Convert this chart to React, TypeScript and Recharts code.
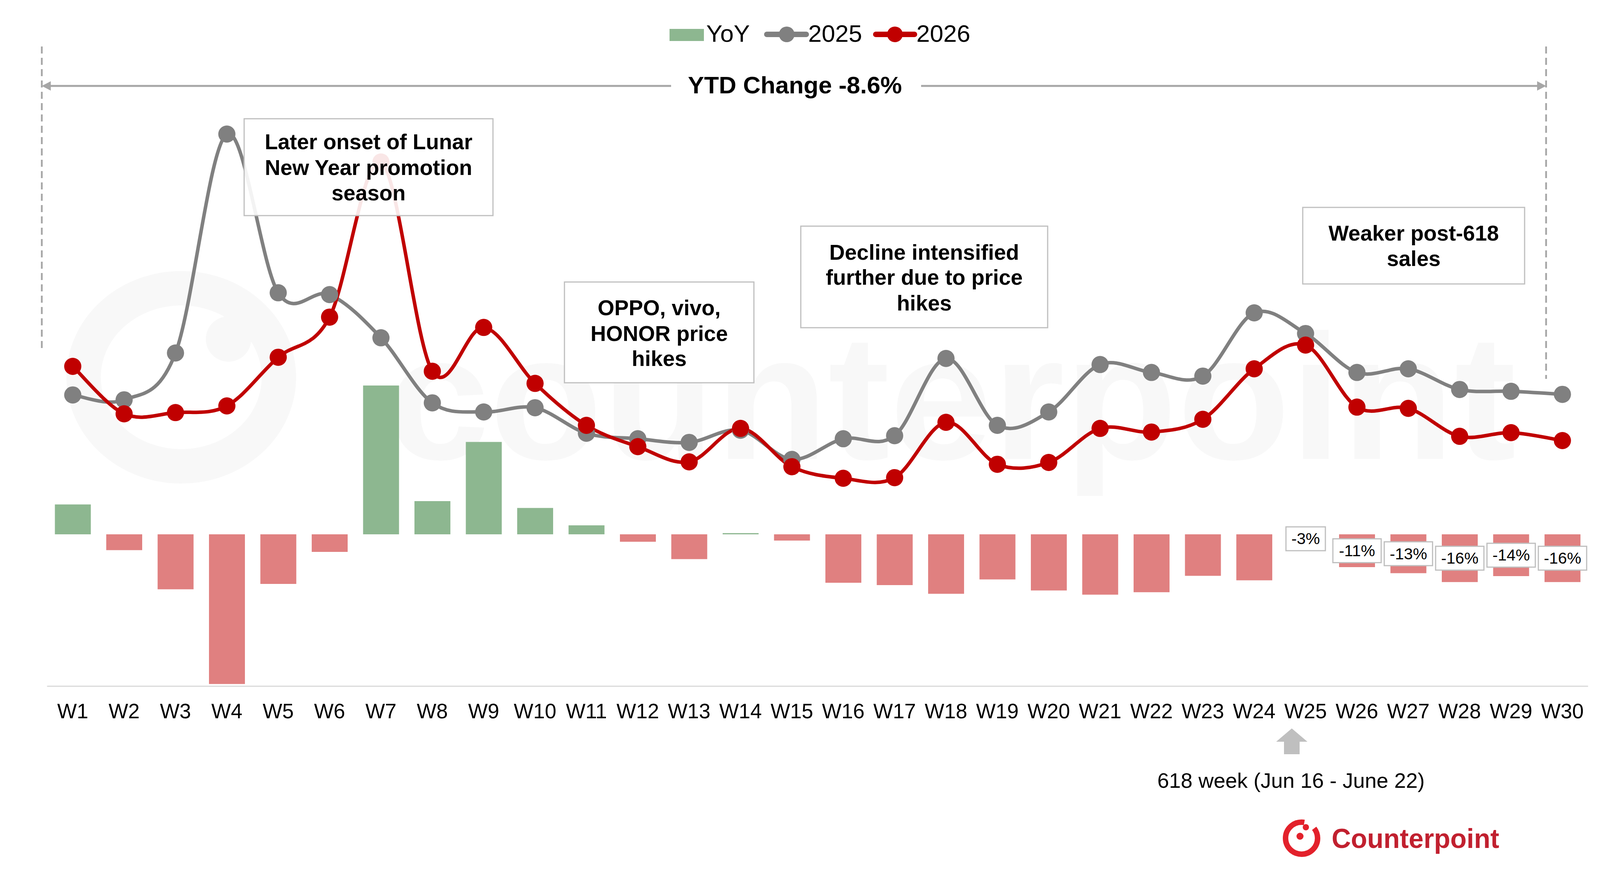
import React from 'react';
import { ComposedChart, Bar, Line, XAxis, YAxis, Cell } from 'recharts';

const W = 4136;
const H = 2230;
const FONT = '"Liberation Sans", Arial, Helvetica, sans-serif';

const GREEN = '#8db790';
const PINK = '#e08080';
const GREY = '#808080';
const RED = '#c00000';
const BORDER = '#bfbfbf';

const weeks = [
  'W1', 'W2', 'W3', 'W4', 'W5', 'W6', 'W7', 'W8', 'W9', 'W10',
  'W11', 'W12', 'W13', 'W14', 'W15', 'W16', 'W17', 'W18', 'W19', 'W20',
  'W21', 'W22', 'W23', 'W24', 'W25', 'W26', 'W27', 'W28', 'W29', 'W30',
];

// YoY change, %
const yoy = [
  10.0, -5.3, -18.4, -50.1, -16.6, -5.9, 49.8, 11.1, 30.9, 8.8,
  3.0, -2.5, -8.3, 0.4, -2.1, -16.2, -17.0, -19.9, -15.1, -18.8,
  -20.2, -19.4, -13.9, -15.4, -3.0, -11.0, -13.0, -16.0, -14.0, -16.0,
];

// weekly sell-through (arbitrary units)
const sales2025 = [
  4.79, 4.71, 5.48, 9.08, 6.47, 6.44, 5.73, 4.66, 4.51, 4.58,
  4.16, 4.07, 4.01, 4.21, 3.73, 4.07, 4.12, 5.39, 4.29, 4.51,
  5.29, 5.16, 5.10, 6.14, 5.80, 5.16, 5.22, 4.88, 4.85, 4.80,
];

const sales2026 = [
  5.26, 4.48, 4.50, 4.61, 5.41, 6.07, 8.62, 5.18, 5.90, 4.98,
  4.29, 3.94, 3.69, 4.24, 3.61, 3.42, 3.43, 4.34, 3.65, 3.68,
  4.24, 4.18, 4.39, 5.22, 5.61, 4.59, 4.57, 4.11, 4.17, 4.04,
];

const LABELLED_FROM = 24; // W25 onwards carry data labels

const data = weeks.map((week, i) => ({
  week,
  yoy: yoy[i],
  y2025: sales2025[i],
  y2026: sales2026[i],
}));

// Excel-like smoothed line (Catmull-Rom through every point)
const smoothCurve = (context: any) => {
  let pts: number[][] = [];
  return {
    areaStart() {},
    areaEnd() {},
    lineStart() {
      pts = [];
    },
    point(x: number, y: number) {
      pts.push([+x, +y]);
    },
    lineEnd() {
      const n = pts.length;
      if (!n) return;
      context.moveTo(pts[0][0], pts[0][1]);
      for (let i = 0; i < n - 1; i++) {
        const p0 = pts[Math.max(i - 1, 0)];
        const p1 = pts[i];
        const p2 = pts[i + 1];
        const p3 = pts[Math.min(i + 2, n - 1)];
        context.bezierCurveTo(
          p1[0] + (p2[0] - p0[0]) / 6,
          p1[1] + (p2[1] - p0[1]) / 6,
          p2[0] - (p3[0] - p1[0]) / 6,
          p2[1] - (p3[1] - p1[1]) / 6,
          p2[0],
          p2[1],
        );
      }
    },
  };
};

const textWidth = (s: string) =>
  [...s].reduce((sum, c) => sum + (c === '-' ? 0.333 : c === '%' ? 0.889 : 0.556), 0);

const YoyLabel = (props: any) => {
  const { x, y, width, height, value, index } = props;
  if (index < LABELLED_FROM) return null;
  const text = `${Math.round(value)}%`;
  const w = textWidth(text) * 41 + 28;
  const h = 61;
  const cx = Number(x) + Number(width) / 2;
  const cy = Number(y) + Number(height) / 2;
  return (
    <g>
      <rect x={cx - w / 2} y={cy - h / 2} width={w} height={h} fill="#fff" stroke={BORDER} strokeWidth={3} />
      <text x={cx} y={cy} textAnchor="middle" dominantBaseline="central" fontSize={41} fill="#000" fontFamily={FONT}>
        {text}
      </text>
    </g>
  );
};

interface NoteProps {
  x: number;
  y: number;
  w: number;
  h: number;
  lines: string[];
  baselines: number[];
}

const Note: React.FC<NoteProps> = ({ x, y, w, h, lines, baselines }) => (
  <g>
    <rect x={x} y={y} width={w} height={h} fill="#fff" fillOpacity={0.9} stroke={BORDER} strokeWidth={3} />
    {lines.map((line, i) => (
      <text key={line} x={x + w / 2} y={baselines[i]} textAnchor="middle" fontSize={55} fontWeight="bold" fill="#000">
        {line}
      </text>
    ))}
  </g>
);

const Watermark = () => (
  <svg width={W} height={H} style={{ position: 'absolute', left: 0, top: 0 }}>
    <ellipse cx={464} cy={966} rx={250} ry={228} fill="none" stroke="#f8f8f8" strokeWidth={88} />
    <circle cx={585} cy={868} r={58} fill="#f8f8f8" />
    <text
      x={990}
      y={1175}
      fontSize={456}
      fontWeight="bold"
      fill="#f8f8f8"
      fontFamily={FONT}
      textLength={2891}
      lengthAdjust="spacingAndGlyphs"
    >
      counterpoint
    </text>
  </svg>
);

const Overlay = () => (
  <svg
    width={W}
    height={H}
    style={{ position: 'absolute', left: 0, top: 0, pointerEvents: 'none' }}
    fontFamily={FONT}
  >
    {/* legend */}
    <rect x={1714} y={74} width={88} height={31} fill={GREEN} />
    <text x={1808} y={107} fontSize={62} fill="#000">YoY</text>
    <line x1={1963} x2={2064} y1={88} y2={88} stroke={GREY} strokeWidth={14} strokeLinecap="round" />
    <circle cx={2014} cy={88} r={20} fill={GREY} />
    <text x={2069} y={107} fontSize={62} fill="#000">2025</text>
    <line x1={2242} x2={2341} y1={88} y2={88} stroke={RED} strokeWidth={14} strokeLinecap="round" />
    <circle cx={2291} cy={88} r={20} fill={RED} />
    <text x={2346} y={107} fontSize={62} fill="#000">2026</text>

    {/* YTD span */}
    <line x1={107} x2={107} y1={119} y2={893} stroke="#a6a6a6" strokeWidth={4.5} strokeDasharray="18 11" />
    <line x1={3958} x2={3958} y1={119} y2={970} stroke="#a6a6a6" strokeWidth={4.5} strokeDasharray="18 11" />
    <line x1={125} x2={1718} y1={220} y2={220} stroke="#a6a6a6" strokeWidth={5} />
    <polygon points="107,220 130,208 130,232" fill="#a6a6a6" />
    <line x1={2358} x2={3940} y1={220} y2={220} stroke="#a6a6a6" strokeWidth={5} />
    <polygon points="3958,220 3935,208 3935,232" fill="#a6a6a6" />
    <text x={2035} y={239} textAnchor="middle" fontSize={62} fontWeight="bold" fill="#000">
      YTD Change -8.6%
    </text>

    {/* annotations */}
    <Note x={625} y={304} w={637} h={248} lines={['Later onset of Lunar', 'New Year promotion', 'season']} baselines={[382, 448, 513]} />
    <Note x={1445} y={722} w={485} h={258} lines={['OPPO, vivo,', 'HONOR price', 'hikes']} baselines={[807, 873, 937]} />
    <Note x={2050} y={579} w={632} h={260} lines={['Decline intensified', 'further due to price', 'hikes']} baselines={[665, 729, 795]} />
    <Note x={3335} y={531} w={568} h={196} lines={['Weaker post-618', 'sales']} baselines={[616, 681]} />

    {/* 618 week marker */}
    <polygon points="3307,1865 3347,1899 3327,1899 3327,1931 3287,1931 3287,1899 3267,1899" fill={BORDER} />
    <text x={3305} y={2017} textAnchor="middle" fontSize={54} fill="#000">
      618 week (Jun 16 - June 22)
    </text>

    {/* brand */}
    <circle
      cx={3332}
      cy={2146}
      r={41}
      fill="none"
      stroke="#e3212b"
      strokeWidth={14}
      strokeDasharray="200 30 28 0"
    />
    <circle cx={3343} cy={2118} r={8} fill="#e3212b" />
    <circle cx={3328} cy={2141} r={9} fill="#e3212b" />
    <text
      x={3409}
      y={2171}
      fontSize={70}
      fontWeight="bold"
      fill="#c1202f"
      textLength={429}
      lengthAdjust="spacingAndGlyphs"
    >
      Counterpoint
    </text>
  </svg>
);

const App: React.FC = () => (
  <div
    style={{
      position: 'absolute',
      left: 0,
      top: 0,
      width: W,
      height: H,
      background: '#fff',
      fontFamily: FONT,
      overflow: 'hidden',
    }}
  >
    <Watermark />
    <div style={{ position: 'absolute', left: 0, top: 0 }}>
      <ComposedChart
        width={W}
        height={H}
        data={data}
        margin={{ top: 200, right: 70.5, bottom: 413, left: 120.5 }}
      >
        <XAxis
          dataKey="week"
          height={60}
          interval={0}
          tickLine={false}
          tickSize={0}
          tickMargin={44}
          axisLine={{ stroke: '#d9d9d9', strokeWidth: 3 }}
          tick={{ fontSize: 53, fill: '#000', fontFamily: FONT }}
        />
        <YAxis yAxisId="bar" hide domain={[-50.85, 152.65]} allowDataOverflow />
        <YAxis yAxisId="line" orientation="right" hide domain={[0, 10]} allowDataOverflow />
        <Bar yAxisId="bar" dataKey="yoy" barSize={92} isAnimationActive={false} label={YoyLabel}>
          {data.map((d) => (
            <Cell key={d.week} fill={d.yoy >= 0 ? GREEN : PINK} />
          ))}
        </Bar>
        <Line
          yAxisId="line"
          dataKey="y2025"
          type={smoothCurve as any}
          stroke={GREY}
          strokeWidth={9}
          dot={{ r: 22, fill: GREY, stroke: GREY, strokeWidth: 0 }}
          activeDot={false}
          isAnimationActive={false}
        />
        <Line
          yAxisId="line"
          dataKey="y2026"
          type={smoothCurve as any}
          stroke={RED}
          strokeWidth={9}
          dot={{ r: 22, fill: RED, stroke: RED, strokeWidth: 0 }}
          activeDot={false}
          isAnimationActive={false}
        />
      </ComposedChart>
    </div>
    <Overlay />
  </div>
);

export default App;
